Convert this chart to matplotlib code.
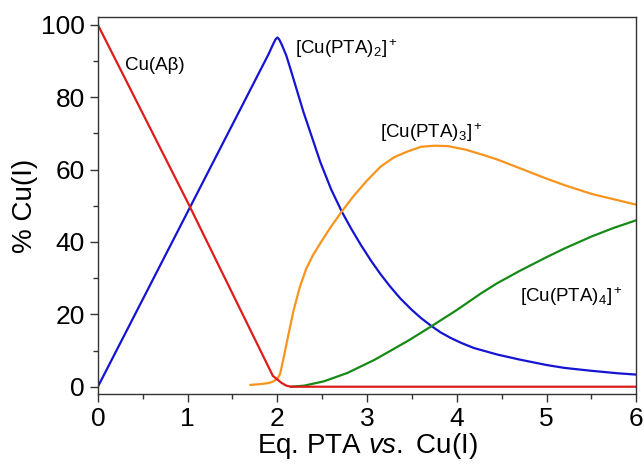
import matplotlib
matplotlib.use('Agg')
import matplotlib.pyplot as plt
from matplotlib.ticker import MultipleLocator

plt.rcParams['font.family'] = ['Liberation Sans', 'DejaVu Sans']
plt.rcParams['mathtext.fontset'] = 'custom'
plt.rcParams['mathtext.rm'] = 'Liberation Sans'
plt.rcParams['mathtext.it'] = 'Liberation Sans:italic'
plt.rcParams['mathtext.default'] = 'regular'

# values
red_x = [0, 1, 1.95, 2.0, 2.05, 2.1, 2.15, 2.3, 6.0]
red_y = [100, 51, 3, 2, 1, 0.3, 0, 0, 0]

blue_x = [0, 1, 1.9, 1.95, 1.98, 2.0, 2.02, 2.05, 2.1, 2.15, 2.29, 2.48, 2.6,
          2.72, 2.82, 2.93, 3.05, 3.15, 3.25, 3.37, 3.5, 3.6, 3.71, 3.82, 3.93,
          4.05, 4.19, 4.45, 4.7, 5.0, 5.2, 5.5, 5.8, 6.0]
blue_y = [0, 48.3, 91.8, 94.5, 96.0, 96.5, 96.0, 94.5, 91.5, 87.5, 76.0, 62.0, 54.5,
          48.3, 43.8, 39.2, 34.6, 31.1, 27.9, 24.4, 21.2, 19.0, 16.9, 15.0, 13.5,
          12.1, 10.7, 8.9, 7.5, 6.0, 5.2, 4.4, 3.7, 3.35]

orange_x = [1.7, 1.8, 1.9, 1.95, 2.0, 2.03, 2.07, 2.12, 2.18, 2.25, 2.32, 2.4,
            2.5, 2.6, 2.72, 2.85, 3.0, 3.15, 3.3, 3.45, 3.6, 3.75, 3.9, 4.1,
            4.3, 4.45, 4.7, 5.0, 5.2, 5.5, 5.8, 6.0]
orange_y = [0.5, 0.7, 1.0, 1.4, 2.2, 3.5, 8, 14, 21, 27.5, 32.5, 36.5,
            40.5, 44.3, 48.5, 52.7, 57, 60.8, 63.4, 65, 66.3, 66.6, 66.5, 65.5,
            64, 62.8, 60.4, 57.5, 55.7, 53.3, 51.5, 50.3]

green_x = [2.15, 2.3, 2.52, 2.78, 3.08, 3.28, 3.47, 3.71, 4.0, 4.27, 4.45,
           4.7, 5.0, 5.2, 5.5, 5.75, 6.0]
green_y = [0, 0.3, 1.5, 3.8, 7.4, 10.2, 12.9, 16.6, 21.2, 25.8, 28.6,
           32.0, 35.8, 38.2, 41.5, 43.9, 46]

fig = plt.figure(figsize=(6.44, 4.69), dpi=100)
ax = fig.add_axes([0.152, 0.160, 0.836, 0.804])

lw = 1.6
ax.plot(blue_x, blue_y, color='#1414d2', lw=lw)
ax.plot(orange_x, orange_y, color='#f7941d', lw=lw)
ax.plot(green_x, green_y, color='#168a16', lw=lw)
ax.plot(red_x, red_y, color='#dd1c1c', lw=lw)

ax.set_xlim(0, 6)
ax.set_ylim(-2, 102.2)
ax.xaxis.set_major_locator(MultipleLocator(1))
ax.xaxis.set_minor_locator(MultipleLocator(0.5))
ax.yaxis.set_major_locator(MultipleLocator(20))
ax.yaxis.set_minor_locator(MultipleLocator(10))
ax.tick_params(which='major', length=6, width=1, labelsize=19, color='#333333')
ax.tick_params(which='minor', length=3.5, width=1, color='#333333')
for s in ax.spines.values():
    s.set_color('#333333')
    s.set_linewidth(1)

ax.set_xlabel('Eq. PTA $\\it{vs.}$ Cu(I)', fontsize=20, labelpad=0)
ax.set_ylabel('% Cu(I)', fontsize=20, labelpad=2)

ax.text(0.3, 88.7, 'Cu(A\u03b2)', fontsize=13.5, va='center')
ax.text(2.2, 93.5, '[Cu(PTA)$_2$]$^+$', fontsize=13.5, va='center')
ax.text(3.14, 70.3, '[Cu(PTA)$_3$]$^+$', fontsize=13.5, va='center')
ax.text(4.7, 25, '[Cu(PTA)$_4$]$^+$', fontsize=13.5, va='center')

fig.savefig('out.png', dpi=100)
